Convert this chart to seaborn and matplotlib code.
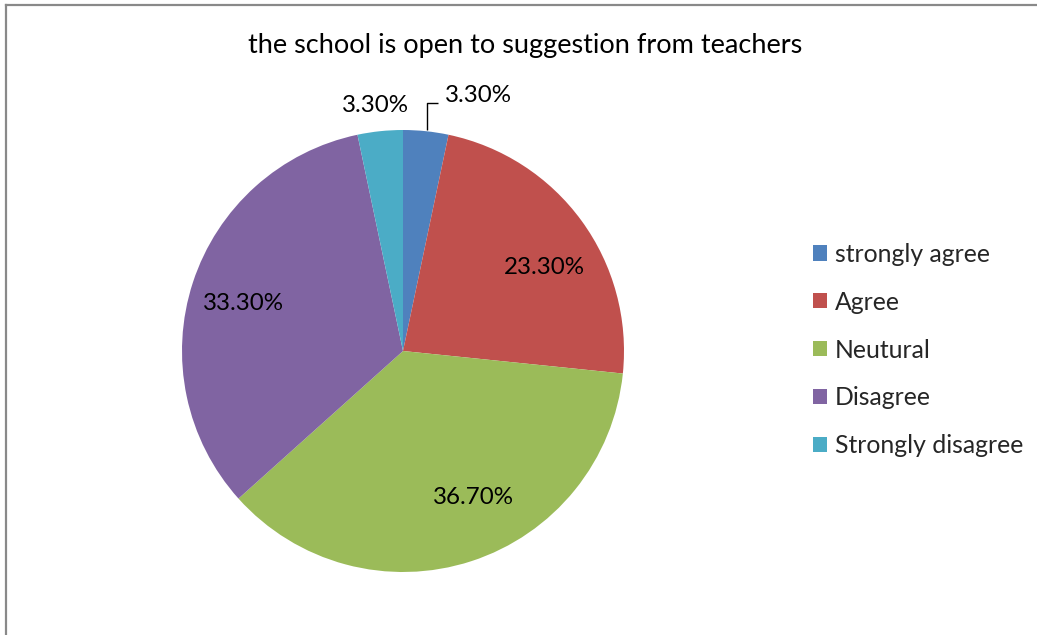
import matplotlib
matplotlib.use("Agg")
import matplotlib.pyplot as plt
from matplotlib.patches import Rectangle
from matplotlib.lines import Line2D
import seaborn as sns

# Survey responses
categories = ["strongly agree", "Agree", "Neutural", "Disagree", "Strongly disagree"]
shares = [3.3, 23.3, 36.7, 33.3, 3.3]
value_labels = ["3.30%", "23.30%", "36.70%", "33.30%", "3.30%"]
title = "the school is open to suggestion from teachers"

sns.set_theme(style="white")
plt.rcParams["font.family"] = ["Lato", "DejaVu Sans"]

colors = ["#4F81BD", "#C0504D", "#9BBB59", "#8064A2", "#4BACC6"]

W, H = 1037, 635
fig = plt.figure(figsize=(W / 100, H / 100), dpi=100)
fig.patch.set_facecolor("white")

# chart frame: left and top edges
fx, fy = 5.5 / W, 1 - 4.5 / H
fig.add_artist(Line2D([fx, fx], [-0.05, fy], transform=fig.transFigure,
                      color="#898989", linewidth=1.6, solid_capstyle="projecting"))
fig.add_artist(Line2D([fx, 1.05], [fy, fy], transform=fig.transFigure,
                      color="#898989", linewidth=1.6, solid_capstyle="projecting"))

cx, cy, r = 403, 351, 221
ax = fig.add_axes([(cx - r) / W, (H - cy - r) / H, 2 * r / W, 2 * r / H])
wedges, _ = ax.pie(shares, colors=colors, startangle=90, counterclock=False,
                   radius=1.0, wedgeprops=dict(linewidth=0))
ax.set_xlim(-1, 1)
ax.set_ylim(-1, 1)
ax.set_aspect("equal")
ax.axis("off")

# label anchor points (axes data units)
label_pos = [(0.19, 1.154), (0.638, 0.376), (0.321, -0.661), (-0.724, 0.213), (-0.124, 1.109)]
label_ha = ["left", "center", "center", "center", "center"]
for txt, (x, y), ha in zip(value_labels, label_pos, label_ha):
    ax.text(x, y, txt, ha=ha, va="center", fontsize=17.4, color="black", clip_on=False)

# leader line for the small first slice
ax.plot([0.107, 0.107, 0.158], [0.998, 1.122, 1.122], color="black", linewidth=1.0,
        clip_on=False, solid_capstyle="butt")

fig.text(525.5 / W, 1 - 46 / H, title, ha="center", va="center", fontsize=19.5, color="black")

handles = [Rectangle((0, 0), 1, 1, facecolor=c, edgecolor="none") for c in colors]
leg = fig.legend(handles, categories, loc="center left", bbox_to_anchor=(813 / W, 1 - 350 / H),
                 frameon=False, fontsize=17.8, handlelength=0.58, handleheight=0.58,
                 handletextpad=0.3, labelspacing=1.01, borderpad=0, borderaxespad=0)

fig.savefig("out.png", dpi=100)
